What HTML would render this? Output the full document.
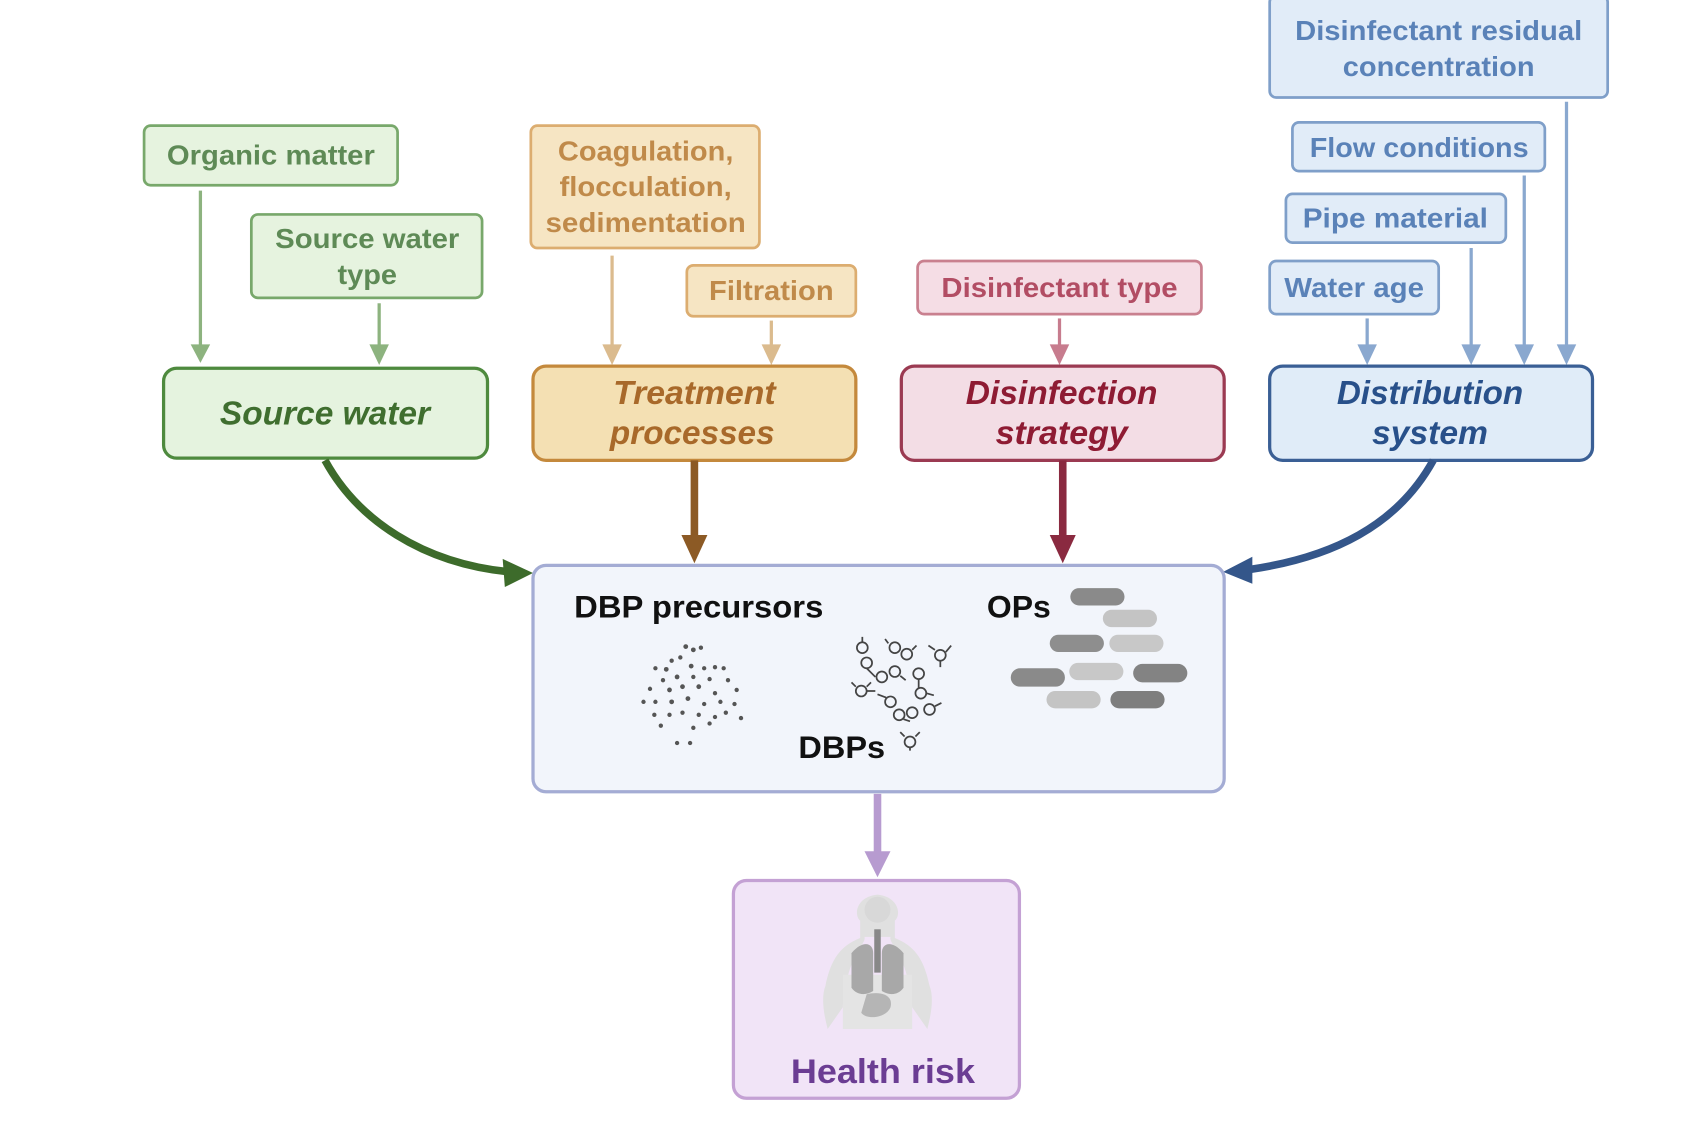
<!DOCTYPE html>
<html><head><meta charset="utf-8"><style>
html,body{margin:0;padding:0;background:#fff;}
svg{display:block;}
text{font-family:"Liberation Sans",sans-serif;font-weight:bold;}
</style></head><body>
<svg width="1690" height="1134" viewBox="0 0 1560 1047" preserveAspectRatio="none" xmlns="http://www.w3.org/2000/svg">
<g stroke-width="2.5">
<rect x="1172" y="-4" width="312" height="94" rx="6" fill="#e1ecf8" stroke="#7f9fc9"/>
<rect x="1193" y="113" width="233" height="45" rx="6" fill="#e1ecf8" stroke="#7f9fc9"/>
<rect x="1187" y="179" width="203" height="45" rx="6" fill="#e1ecf8" stroke="#7f9fc9"/>
<rect x="1172" y="241" width="156" height="49" rx="6" fill="#e1ecf8" stroke="#7f9fc9"/>
<rect x="133" y="116" width="234" height="55" rx="6" fill="#e6f3df" stroke="#78a86b"/>
<rect x="232" y="198" width="213" height="77" rx="6" fill="#e6f3df" stroke="#78a86b"/>
<rect x="490" y="116" width="211" height="113" rx="6" fill="#f6e5c3" stroke="#dcad70"/>
<rect x="634" y="245" width="156" height="47" rx="6" fill="#f6e5c3" stroke="#dcad70"/>
<rect x="847" y="241" width="262" height="49" rx="6" fill="#f5dde5" stroke="#c9808f"/>
</g>
<g font-size="26">
<text x="1328" y="37" text-anchor="middle" fill="#5a82b8" textLength="265" lengthAdjust="spacingAndGlyphs">Disinfectant residual</text>
<text x="1328" y="70" text-anchor="middle" fill="#5a82b8" textLength="177" lengthAdjust="spacingAndGlyphs">concentration</text>
<text x="1310" y="145" text-anchor="middle" fill="#5a82b8" textLength="202" lengthAdjust="spacingAndGlyphs">Flow conditions</text>
<text x="1288" y="210" text-anchor="middle" fill="#5a82b8" textLength="171" lengthAdjust="spacingAndGlyphs">Pipe material</text>
<text x="1250" y="274" text-anchor="middle" fill="#5a82b8" textLength="129" lengthAdjust="spacingAndGlyphs">Water age</text>
<text x="250" y="152" text-anchor="middle" fill="#5e8a56" textLength="192" lengthAdjust="spacingAndGlyphs">Organic matter</text>
<text x="339" y="229" text-anchor="middle" fill="#5e8a56" textLength="170" lengthAdjust="spacingAndGlyphs">Source water</text>
<text x="339" y="262" text-anchor="middle" fill="#5e8a56" textLength="55" lengthAdjust="spacingAndGlyphs">type</text>
<text x="596" y="148" text-anchor="middle" fill="#c08a4a" textLength="162" lengthAdjust="spacingAndGlyphs">Coagulation,</text>
<text x="596" y="181" text-anchor="middle" fill="#c08a4a" textLength="159" lengthAdjust="spacingAndGlyphs">flocculation,</text>
<text x="596" y="214" text-anchor="middle" fill="#c08a4a" textLength="185" lengthAdjust="spacingAndGlyphs">sedimentation</text>
<text x="712" y="277" text-anchor="middle" fill="#c08a4a" textLength="115" lengthAdjust="spacingAndGlyphs">Filtration</text>
<text x="978" y="274" text-anchor="middle" fill="#b24d64" textLength="218" lengthAdjust="spacingAndGlyphs">Disinfectant type</text>
</g>
<g stroke-width="3">
<line x1="185" y1="176" x2="185" y2="322" stroke="#8db37f"/><path d="M176,318 L194,318 L185,335Z" fill="#8db37f"/>
<line x1="350" y1="280" x2="350" y2="322" stroke="#8db37f"/><path d="M341,318 L359,318 L350,337Z" fill="#8db37f"/>
<line x1="565" y1="236" x2="565" y2="322" stroke="#dbbb8e"/><path d="M556,318 L574,318 L565,337Z" fill="#dbbb8e"/>
<line x1="712" y1="296" x2="712" y2="322" stroke="#dbbb8e"/><path d="M703,318 L721,318 L712,337Z" fill="#dbbb8e"/>
<line x1="978" y1="294" x2="978" y2="322" stroke="#c77c8e"/><path d="M969,318 L987,318 L978,337Z" fill="#c77c8e"/>
<line x1="1262" y1="294" x2="1262" y2="322" stroke="#8aa8cf"/><path d="M1253,318 L1271,318 L1262,337Z" fill="#8aa8cf"/>
<line x1="1358" y1="229" x2="1358" y2="322" stroke="#8aa8cf"/><path d="M1349,318 L1367,318 L1358,337Z" fill="#8aa8cf"/>
<line x1="1407" y1="162" x2="1407" y2="322" stroke="#8aa8cf"/><path d="M1398,318 L1416,318 L1407,337Z" fill="#8aa8cf"/>
<line x1="1446" y1="94" x2="1446" y2="322" stroke="#8aa8cf"/><path d="M1437,318 L1455,318 L1446,337Z" fill="#8aa8cf"/>
</g>
<g stroke-width="3">
<rect x="151" y="340" width="299" height="83" rx="12" fill="#e5f3df" stroke="#4e8a3e"/>
<rect x="492" y="338" width="298" height="87" rx="12" fill="#f4e0b3" stroke="#c4893c"/>
<rect x="832" y="338" width="298" height="87" rx="12" fill="#f3dde5" stroke="#9b3a52"/>
<rect x="1172" y="338" width="298" height="87" rx="12" fill="#e0ecf8" stroke="#3a5f95"/>
</g>
<g font-size="31" font-style="italic">
<text x="300" y="392" text-anchor="middle" fill="#3f6e2f" textLength="194" lengthAdjust="spacingAndGlyphs">Source water</text>
<text x="641" y="373" text-anchor="middle" fill="#a8692a" textLength="150" lengthAdjust="spacingAndGlyphs">Treatment</text>
<text x="639" y="410" text-anchor="middle" fill="#a8692a" textLength="152" lengthAdjust="spacingAndGlyphs">processes</text>
<text x="980" y="373" text-anchor="middle" fill="#8e1b33" textLength="177" lengthAdjust="spacingAndGlyphs">Disinfection</text>
<text x="980" y="410" text-anchor="middle" fill="#8e1b33" textLength="122" lengthAdjust="spacingAndGlyphs">strategy</text>
<text x="1320" y="373" text-anchor="middle" fill="#28508a" textLength="172" lengthAdjust="spacingAndGlyphs">Distribution</text>
<text x="1320" y="410" text-anchor="middle" fill="#28508a" textLength="107" lengthAdjust="spacingAndGlyphs">system</text>
</g>
<path d="M300,425 C330,480 390,520 470,528" fill="none" stroke="#3d6b2b" stroke-width="7"/>
<path d="M464,516 L492,529 L466,542Z" fill="#3d6b2b"/>
<line x1="641" y1="425" x2="641" y2="498" stroke="#8c5a25" stroke-width="7"/>
<path d="M629,494 L653,494 L641,520Z" fill="#8c5a25"/>
<line x1="981" y1="425" x2="981" y2="498" stroke="#8a2a40" stroke-width="7"/>
<path d="M969,494 L993,494 L981,520Z" fill="#8a2a40"/>
<path d="M1323,425 C1290,485 1230,515 1152,526" fill="none" stroke="#34568a" stroke-width="7"/>
<path d="M1156,514 L1129,528 L1156,539Z" fill="#34568a"/>
<rect x="492" y="522" width="638" height="209" rx="12" fill="#f2f5fb" stroke="#a4acd4" stroke-width="3"/>
<g font-size="29" fill="#111">
<text x="530" y="570" textLength="230" lengthAdjust="spacingAndGlyphs">DBP precursors</text>
<text x="911" y="570" textLength="59" lengthAdjust="spacingAndGlyphs">OPs</text>
<text x="737" y="700" textLength="80" lengthAdjust="spacingAndGlyphs">DBPs</text>
</g>
<g fill="#555">
<circle cx="633" cy="597" r="2.2"/><circle cx="640" cy="600" r="2.2"/><circle cx="647" cy="598" r="2"/><circle cx="620" cy="610" r="2"/><circle cx="628" cy="607" r="2"/>
<circle cx="605" cy="617" r="2"/><circle cx="615" cy="618" r="2.2"/><circle cx="638" cy="615" r="2.2"/><circle cx="650" cy="617" r="2"/><circle cx="660" cy="616" r="2"/><circle cx="668" cy="617" r="2"/>
<circle cx="612" cy="628" r="2"/><circle cx="625" cy="625" r="2.2"/><circle cx="640" cy="625" r="2"/><circle cx="655" cy="627" r="2"/><circle cx="672" cy="628" r="2"/>
<circle cx="600" cy="636" r="2"/><circle cx="618" cy="637" r="2.2"/><circle cx="630" cy="634" r="2.2"/><circle cx="645" cy="634" r="2.2"/><circle cx="660" cy="640" r="2"/><circle cx="680" cy="637" r="2"/>
<circle cx="594" cy="648" r="2"/><circle cx="605" cy="648" r="2"/><circle cx="620" cy="648" r="2.2"/><circle cx="635" cy="645" r="2.2"/><circle cx="650" cy="650" r="2"/><circle cx="665" cy="648" r="2"/><circle cx="678" cy="650" r="2"/>
<circle cx="604" cy="660" r="2"/><circle cx="618" cy="660" r="2"/><circle cx="630" cy="658" r="2"/><circle cx="645" cy="660" r="2"/><circle cx="660" cy="662" r="2"/><circle cx="670" cy="658" r="2"/><circle cx="684" cy="663" r="2"/>
<circle cx="610" cy="670" r="2"/><circle cx="640" cy="672" r="2"/><circle cx="655" cy="668" r="2"/><circle cx="625" cy="686" r="2"/><circle cx="637" cy="686" r="2"/>
</g>
<g fill="none" stroke="#444" stroke-width="1.6">
<circle cx="796" cy="598" r="5"/><circle cx="800" cy="612" r="5"/><path d="M796,588v5M800,617l8,8"/>
<circle cx="826" cy="598" r="5"/><circle cx="837" cy="604" r="5"/><path d="M820,594l-3,-4M842,600l4,-4"/>
<circle cx="868" cy="605" r="5"/><path d="M863,600l-6,-4M873,602l5,-6M868,610v6"/>
<circle cx="814" cy="625" r="5"/><circle cx="826" cy="620" r="5"/><path d="M831,624l5,4"/>
<circle cx="848" cy="622" r="5"/><circle cx="850" cy="640" r="5"/><path d="M848,627v8M855,640l7,2"/>
<circle cx="795" cy="638" r="5"/><path d="M790,634l-4,-4M800,634l4,-4M800,638h8"/>
<circle cx="822" cy="648" r="5"/><circle cx="830" cy="660" r="5"/><path d="M818,644l-8,-3M834,664l6,2"/>
<circle cx="842" cy="658" r="5"/><circle cx="858" cy="655" r="5"/><path d="M863,652l6,-3"/>
<circle cx="840" cy="685" r="5"/><path d="M835,680l-4,-4M845,680l4,-4M840,690v3"/>
</g>
<g>
<rect x="988" y="543" width="50" height="16" rx="8" fill="#8a8a8a"/>
<rect x="1018" y="563" width="50" height="16" rx="8" fill="#c4c4c4"/>
<rect x="969" y="586" width="50" height="16" rx="8" fill="#8e8e8e"/>
<rect x="1024" y="586" width="50" height="16" rx="8" fill="#c8c8c8"/>
<rect x="933" y="617" width="50" height="17" rx="8.5" fill="#8a8a8a"/>
<rect x="987" y="612" width="50" height="16" rx="8" fill="#c8c8c8"/>
<rect x="1046" y="613" width="50" height="17" rx="8.5" fill="#838383"/>
<rect x="966" y="638" width="50" height="16" rx="8" fill="#c4c4c4"/>
<rect x="1025" y="638" width="50" height="16" rx="8" fill="#7e7e7e"/>
</g>
<line x1="810" y1="733" x2="810" y2="790" stroke="#b79bd0" stroke-width="7"/>
<path d="M798,786 L822,786 L810,810Z" fill="#b79bd0"/>
<rect x="677" y="813" width="264" height="201" rx="12" fill="#f1e4f7" stroke="#c4a1d4" stroke-width="3"/>
<g>
<path d="M778,930 C782,880 800,872 798,865 L822,865 C820,872 838,880 842,930 L856,950 C860,935 862,920 858,910 C852,880 840,872 826,866 L826,850 C832,845 830,828 810,826 C790,828 788,845 794,850 L794,866 C780,872 768,880 762,910 C758,920 760,935 764,950 Z" fill="#e0e0e0"/>
<path d="M778,900 L778,950 L842,950 L842,900Z" fill="#e4e4e4"/>
<path d="M786,880 C796,868 806,870 806,880 L806,915 C798,920 790,918 786,912Z" fill="#a8a8a8"/>
<path d="M834,880 C824,868 814,870 814,880 L814,915 C822,920 830,918 834,912Z" fill="#a8a8a8"/>
<rect x="807" y="858" width="6" height="40" fill="#888"/>
<path d="M800,918 C812,915 825,918 822,930 C818,940 800,942 795,935Z" fill="#b5b5b5"/>
<circle cx="810" cy="840" r="12" fill="#d8d8d8"/>
</g>
<text x="815" y="1000" text-anchor="middle" font-size="32" fill="#6b3d93" textLength="170" lengthAdjust="spacingAndGlyphs">Health risk</text>
</svg>
</body></html>
